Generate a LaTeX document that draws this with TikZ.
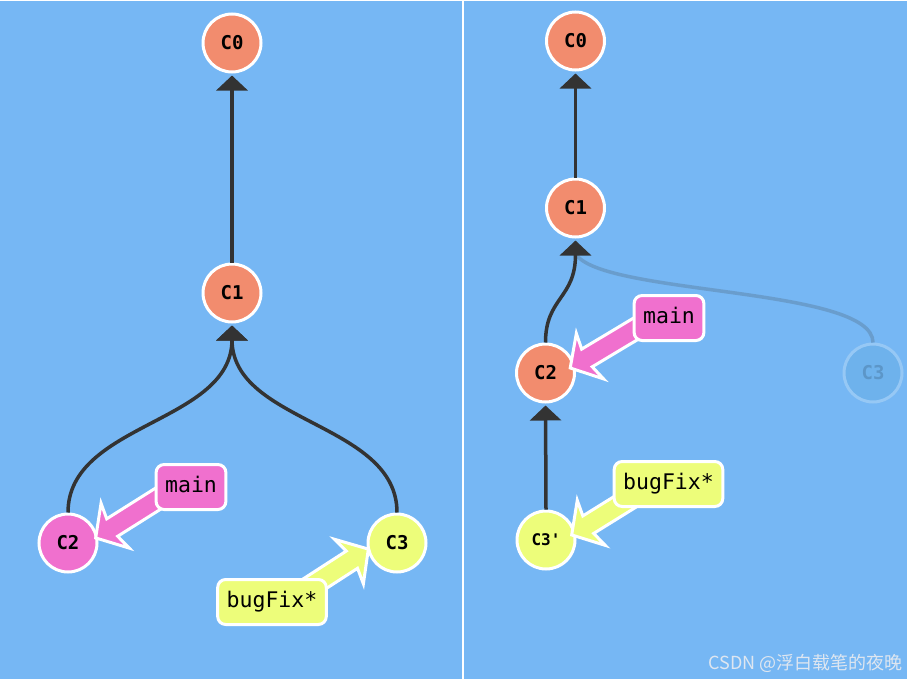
\documentclass[tikz,border=0pt]{standalone}
\usepackage{fontspec}
\setmonofont{DejaVu Sans Mono}
\newfontfamily\cjk{Noto Sans CJK SC}
\usetikzlibrary{arrows.meta,calc}
\definecolor{bgblue}{RGB}{118,183,244}
\definecolor{corange}{RGB}{242,140,110}
\definecolor{cpink}{RGB}{240,112,206}
\definecolor{cyellow}{RGB}{237,253,122}
\definecolor{edgegray}{RGB}{51,51,51}
\definecolor{fadefill}{RGB}{110,178,236}
\definecolor{fadeborder}{RGB}{150,200,245}
\definecolor{fadetext}{RGB}{92,150,200}
\definecolor{fadeedge}{RGB}{105,157,205}
\definecolor{wmcolor}{RGB}{222,230,240}
\pgfdeclarelayer{bg}
\pgfdeclarelayer{arrowlayer}
\pgfsetlayers{bg,arrowlayer,main}
% #1 label node, #2 tip coordinate, #3 colour
\newcommand\fatarrow[3]{%
  \path let \p1=($(#2)-(#1)$) in \pgfextra{\pgfmathparse{atan2(\y1,\x1)+4}\xdef\fatang{\pgfmathresult}};
  \begin{scope}[shift={(#2)},rotate=\fatang]
    \draw[fatshape, fill=#3] (-2,0) -- (-25,26.5) -- (-21.5,10.3) -- (-115,10.3) -- (-115,-10.3) -- (-21.5,-10.3) -- (-25,-26.5) -- cycle;
  \end{scope}}
\begin{document}
\begin{tikzpicture}[x=1pt,y=-1pt,
  commit/.style={circle, draw=white, line width=3pt, minimum size=58pt, inner sep=0pt, text=black,
    font=\ttfamily\bfseries\fontsize{19}{21}\selectfont},
  edge/.style={draw=edgegray, line width=3.5pt, -{Triangle[width=31pt,length=15pt]}, shorten >=2pt},
  fadeline/.style={draw=fadeedge, line width=3.5pt},
  branch/.style={rectangle, rounded corners=8pt, draw=white, line width=3pt, inner xsep=9pt,
    minimum height=45pt, text height=15pt, text depth=4pt, text=black,
    font=\ttfamily\fontsize{21.5}{24}\selectfont},
  fatshape/.style={draw=white, line width=3pt, line join=miter}]
\begin{pgfonlayer}{bg}
  \fill[bgblue] (0,0) rectangle (907,678);
  \draw[white, line width=2pt] (462.5,0) -- (462.5,678);
  % left panel commits
  \node[commit, fill=corange] (c0l) at (232,42) {C0};
  \node[commit, fill=corange] (c1l) at (232,292) {C1};
  \node[commit, fill=cpink] (c2l) at (68,542) {C2};
  \node[commit, fill=cyellow] (c3l) at (397,542) {C3};
  % right panel commits
  \node[commit, fill=corange] (c0r) at (575.5,40) {C0};
  \node[commit, fill=corange] (c1r) at (575.5,207) {C1};
  \node[commit, fill=corange] (c2r) at (545.5,372) {C2};
  \node[commit, fill=cyellow, font=\ttfamily\bfseries\fontsize{16}{18}\selectfont] (c3p) at (546,539) {C3'};
  \node[commit, fill=fadefill, draw=fadeborder, text=fadetext] (c3f) at (873,372) {C3};
  % edges
  \draw[fadeline] (c3f.north) .. controls +(0,-56) and +(24,42) .. ($(c1r.south)+(0,15)$);
  \draw[edge] (c1l.north) -- (c0l.south);
  \draw[edge] (c2l.north) .. controls +(0,-90) and +(0,100) .. (c1l.south);
  \draw[edge] (c3l.north) .. controls +(0,-90) and +(0,100) .. (c1l.south);
  \draw[edge] (c1r.north) -- (c0r.south);
  \draw[edge] (c2r.north) .. controls +(0,-45) and +(0,60) .. (c1r.south);
  \draw[edge] (c3p.north) -- (c2r.south);
\end{pgfonlayer}
% branch labels
\node[branch, fill=cpink] (mainl) at (191,486) {main};
\node[branch, fill=cyellow] (bugl) at (272,601) {bugFix*};
\node[branch, fill=cpink] (mainr) at (669,317) {main};
\node[branch, fill=cyellow] (bugr) at (668.5,483) {bugFix*};
\coordinate (tipml) at ($(c2l)+(26,-4)$);
\coordinate (tipbl) at ($(c3l)+(-27,5)$);
\coordinate (tipmr) at ($(c2r)+(23,-4)$);
\coordinate (tipbr) at ($(c3p)+(24,-4)$);
\begin{pgfonlayer}{arrowlayer}
  \fatarrow{mainl}{tipml}{cpink}
  \fatarrow{bugl}{tipbl}{cyellow}
  \fatarrow{mainr}{tipmr}{cpink}
  \fatarrow{bugr}{tipbr}{cyellow}
\end{pgfonlayer}
\node[anchor=east, text=wmcolor, font=\cjk\fontsize{18}{20}\selectfont, inner sep=0pt] (wm) at (903,662) {CSDN @浮白载笔的夜晚};
\end{tikzpicture}
\end{document}
